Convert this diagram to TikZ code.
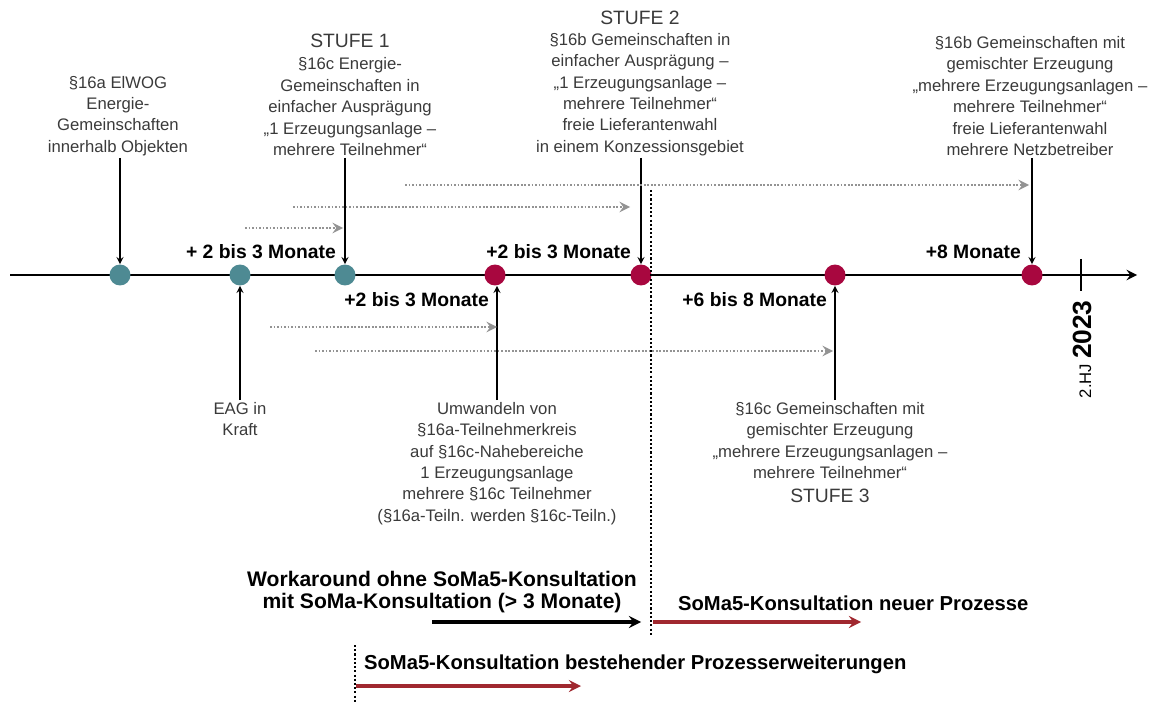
\documentclass[tikz,border=0pt]{standalone}
\usepackage{fontspec}
\setmainfont{Liberation Sans}
\usepackage{xcolor}
\usetikzlibrary{arrows, positioning}

\definecolor{ecteal}{HTML}{4E8A93}
\definecolor{ecred}{HTML}{A8073F}
\definecolor{somared}{HTML}{A0282F}
\definecolor{notegray}{HTML}{3A3A3A}

\begin{document}
\begin{tikzpicture}[
    x=0.02cm, y=-0.02cm,
    dot/.style={circle, minimum size=0.42cm, inner sep=0pt},
    teal dot/.style={dot, fill=ecteal},
    red dot/.style={dot, fill=ecred},
    note/.style={align=center, font=\fontsize{9.5}{12.2}\selectfont, text=notegray, inner sep=1pt},
    stufe/.style={font=\fontsize{11}{13}\selectfont, text=notegray},
    span/.style={font=\fontsize{11}{12}\selectfont\bfseries, inner sep=1pt},
    bold/.style={font=\fontsize{11.5}{12.5}\selectfont\bfseries, inner sep=1pt},
    pointer/.style={line width=0.8pt, ->, >=stealth},
    lead/.style={gray!85, line width=1.6pt, dash pattern=on 1pt off 1pt, ->, >=stealth},
    cut/.style={line width=1.3pt, dash pattern=on 1.2pt off 1.2pt},
    soma/.style={line width=2pt, ->, >=stealth}
]
\useasboundingbox (0,0) rectangle (1162,702);

% timeline
\coordinate (start) at (10,275);
\coordinate (end) at (1137,275);
\draw[line width=1.6pt, ->, >=stealth] (start) -- (end);
\coordinate (tick top) at (1081,259);
\coordinate (tick bot) at (1081,291);
\draw[line width=1pt] (tick top) -- (tick bot);
\node[rotate=90, anchor=east, inner sep=0pt] (year) at (1082,300)
    {{\fontsize{9.5}{11}\selectfont 2.HJ} {\fontsize{15}{18}\selectfont\bfseries 2023}};

% milestones
\node[teal dot] (objekt) at (120,275) {};
\node[teal dot] (eag) at (240,275) {};
\node[teal dot] (stufe1) at (345,275) {};
\node[red dot] (umwandeln) at (495,275) {};
\node[red dot] (stufe2) at (641,275) {};
\node[red dot] (stufe3) at (835,275) {};
\node[red dot] (mischung) at (1032,275) {};

% labels above
\node[note, anchor=south] (t16a) at (118,158) {§16a ElWOG\\Energie-\\Gemeinschaften\\innerhalb Objekten};
\node[note, anchor=south] (t16c) at (350,158) {§16c Energie-\\Gemeinschaften in\\einfacher Ausprägung\\„1 Erzeugungsanlage –\\mehrere Teilnehmer“};
\node[stufe, above=1pt of t16c] (s1) {STUFE 1};
\node[note, anchor=south] (t16b) at (640,158) {§16b Gemeinschaften in\\einfacher Ausprägung –\\„1 Erzeugungsanlage –\\mehrere Teilnehmer“\\freie Lieferantenwahl\\in einem Konzessionsgebiet};
\node[stufe, above=0pt of t16b] (s2) {STUFE 2};
\node[note, anchor=south] (t16bm) at (1030,158) {§16b Gemeinschaften mit\\gemischter Erzeugung\\„mehrere Erzeugungsanlagen –\\mehrere Teilnehmer“\\freie Lieferantenwahl\\mehrere Netzbetreiber};

\draw[pointer] (objekt |- t16a.south) -- (objekt.north);
\draw[pointer] (stufe1 |- t16c.south) -- (stufe1.north);
\draw[pointer] (stufe2 |- t16b.south) -- (stufe2.north);
\draw[pointer] (mischung |- t16bm.south) -- (mischung.north);

% labels below
\node[note, anchor=north] (teag) at (240,400) {EAG in\\Kraft};
\node[note, anchor=north] (tumw) at (497,400) {Umwandeln von\\§16a-Teilnehmerkreis\\auf §16c-Nahebereiche\\1 Erzeugungsanlage\\mehrere §16c Teilnehmer\\(§16a-Teiln. werden §16c-Teiln.)};
\node[note, anchor=north] (t16cm) at (830,400) {§16c Gemeinschaften mit\\gemischter Erzeugung\\„mehrere Erzeugungsanlagen –\\mehrere Teilnehmer“};
\node[stufe, below=1pt of t16cm] (s3) {STUFE 3};

\draw[pointer] (eag |- teag.north) -- (eag.south);
\draw[pointer] (tumw.north -| 497,0) -- (umwandeln.south -| 497,0);
\draw[pointer] (stufe3 |- t16cm.north) -- (stufe3.south);

% durations
\node[span, anchor=south east] (m1) at (338,261) {+ 2 bis 3 Monate};
\node[span, anchor=south east] (m2) at (633,261) {+2 bis 3 Monate};
\node[span, anchor=south east] (m3) at (1023,261) {+8 Monate};
\node[span, anchor=north east] (m4) at (491,290) {+2 bis 3 Monate};
\node[span, anchor=north east] (m5) at (829,290) {+6 bis 8 Monate};

% dotted lead times
\foreach \i/\xa/\xb/\yy in {1/245/343/228, 2/293/630/207, 3/405/1029/185, 4/270/497/327, 5/315/833/351} {
  \coordinate (lead\i a) at (\xa,\yy);
  \coordinate (lead\i b) at (\xb,\yy);
  \draw[lead] (lead\i a) -- (lead\i b);
}

% consultation
\coordinate (cut1 top) at (651,190);
\coordinate (cut1 bot) at (651,635);
\draw[cut] (cut1 top) -- (cut1 bot);
\coordinate (cut2 top) at (355,645);
\coordinate (cut2 bot) at (355,702);
\draw[cut] (cut2 top) -- (cut2 bot);

\node[bold, align=center, font=\fontsize{12}{12.8}\selectfont\bfseries] (work) at (442,592) {Workaround ohne SoMa5-Konsultation\\mit SoMa-Konsultation (> 3 Monate)};
\node[bold, anchor=west] (neu) at (676,603) {SoMa5-Konsultation neuer Prozesse};
\node[bold, anchor=west] (best) at (362,664) {SoMa5-Konsultation bestehender Prozesserweiterungen};

\coordinate (wa) at (432,622);
\coordinate (wb) at (641,622);
\draw[soma] (wa) -- (wb);
\coordinate (na) at (653,622);
\coordinate (nb) at (861,622);
\draw[soma, somared] (na) -- (nb);
\coordinate (ba) at (356,686);
\coordinate (bb) at (581,686);
\draw[soma, somared] (ba) -- (bb);

\end{tikzpicture}
\end{document}
